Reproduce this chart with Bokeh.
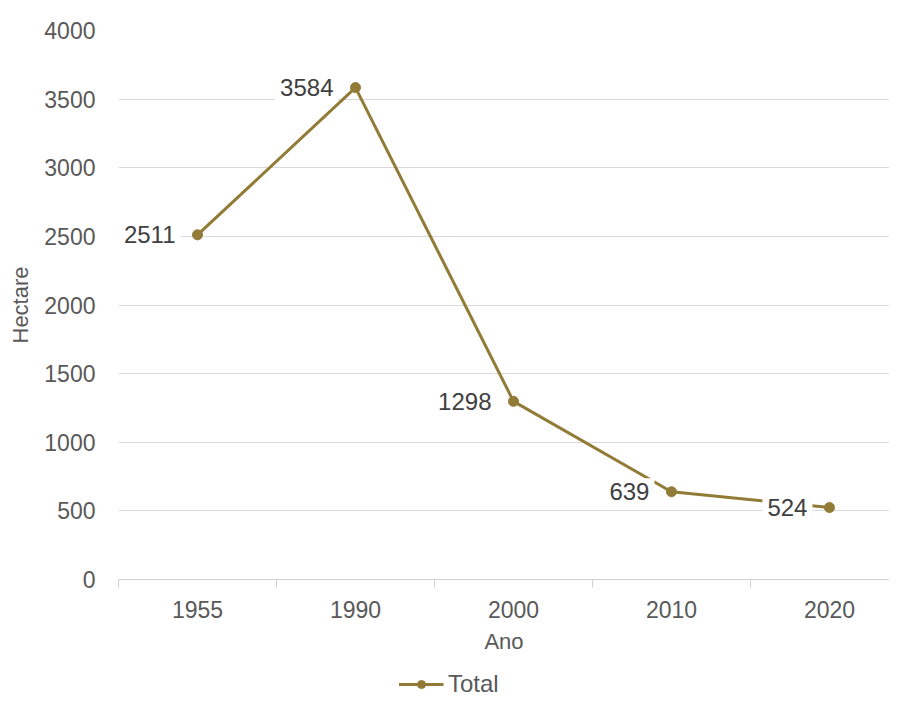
from bokeh.plotting import figure
from bokeh.layouts import column
from bokeh.models import (Range1d, FixedTicker, ColumnDataSource, Legend, LegendItem)
from bokeh.core.properties import value
from bokeh.embed import file_html
from bokeh.resources import INLINE

years = ["1955", "1990", "2000", "2010", "2020"]
hectares = [2511, 3584, 1298, 639, 524]
y_ticks = [0, 500, 1000, 1500, 2000, 2500, 3000, 3500, 4000]
series_name = "Total"

COLOR = "#917B36"
FONT = "Liberation Sans"
TXT = "#595959"

xs = list(range(len(years)))
src = ColumnDataSource(dict(x=xs, y=hectares, lbl=[str(v) for v in hectares]))

p = figure(frame_width=771, frame_height=549, output_backend="svg", toolbar_location=None,
           x_range=Range1d(-0.5, len(years) - 0.62), y_range=Range1d(0, 4000),
           min_border_left=118, min_border_right=0, min_border_top=30, min_border_bottom=0)
p.outline_line_color = None
p.background_fill_color = "white"
p.border_fill_color = "white"

# axes
p.xaxis.ticker = FixedTicker(ticks=xs, minor_ticks=[i - 0.5 for i in range(len(years) + 1)])
p.xaxis.major_label_overrides = {i: y for i, y in enumerate(years)}
p.xaxis.major_tick_line_color = None
p.xaxis.major_tick_out = 0
p.xaxis.major_tick_in = 0
p.xaxis.minor_tick_out = 8
p.xaxis.minor_tick_in = 0
p.xaxis.minor_tick_line_color = "#D0D0D0"
p.xaxis.axis_line_color = "#D0D0D0"
p.xaxis.major_label_standoff = 13
p.xaxis.axis_label = "Ano"
p.xaxis.axis_label_standoff = 8

p.yaxis.ticker = FixedTicker(ticks=y_ticks)
p.yaxis.axis_line_color = None
p.yaxis.major_tick_line_color = None
p.yaxis.minor_tick_line_color = None
p.yaxis.major_tick_out = 0
p.yaxis.major_label_standoff = 23
p.yaxis.axis_label = "Hectare"
p.yaxis.axis_label_standoff = 8

for ax in (p.xaxis, p.yaxis):
    ax.major_label_text_font = FONT
    ax.major_label_text_font_size = "23px"
    ax.major_label_text_color = TXT
    ax.axis_label_text_font = FONT
    ax.axis_label_text_font_size = "22px"
    ax.axis_label_text_font_style = "normal"
    ax.axis_label_text_color = TXT

p.xgrid.grid_line_color = None
p.ygrid.ticker = FixedTicker(ticks=y_ticks)
p.ygrid.grid_line_color = "#D9D9D9"
p.ygrid.grid_line_width = 1

p.line("x", "y", source=src, line_color=COLOR, line_width=3)
p.scatter("x", "y", source=src, size=10, fill_color=COLOR, line_color=COLOR)

p.text("x", "y", text="lbl", source=src, x_offset=-17, y_offset=0,
       text_align="right", text_baseline="middle",
       text_font=value(FONT), text_font_size="24px", text_color="#404040",
       background_fill_color="white", padding=5)

# legend strip underneath (same series, its glyphs kept out of view)
p2 = figure(width=889, height=56, output_backend="svg", toolbar_location=None,
            x_axis_location=None, y_axis_location=None,
            x_range=Range1d(-0.5, len(years) - 0.62), y_range=Range1d(10000, 10001),
            min_border_left=14, min_border_right=0, min_border_top=0, min_border_bottom=0)
p2.outline_line_color = None
p2.xgrid.grid_line_color = None
p2.ygrid.grid_line_color = None
p2.border_fill_color = "white"
ln2 = p2.line("x", "y", source=src, line_color=COLOR, line_width=3)
sc2 = p2.scatter("x", "y", source=src, size=10, fill_color=COLOR, line_color=COLOR)

legend = Legend(items=[LegendItem(label=series_name, renderers=[ln2, sc2])],
                location="center", orientation="horizontal",
                glyph_width=45, glyph_height=20, label_standoff=5, label_width=161,
                padding=0, margin=0, spacing=0,
                label_text_font=FONT, label_text_font_size="24px", label_text_color=TXT,
                background_fill_alpha=0, border_line_color=None)
p2.add_layout(legend, "center")

open("out.html", "w").write(file_html(column(p, p2, spacing=0), INLINE))
